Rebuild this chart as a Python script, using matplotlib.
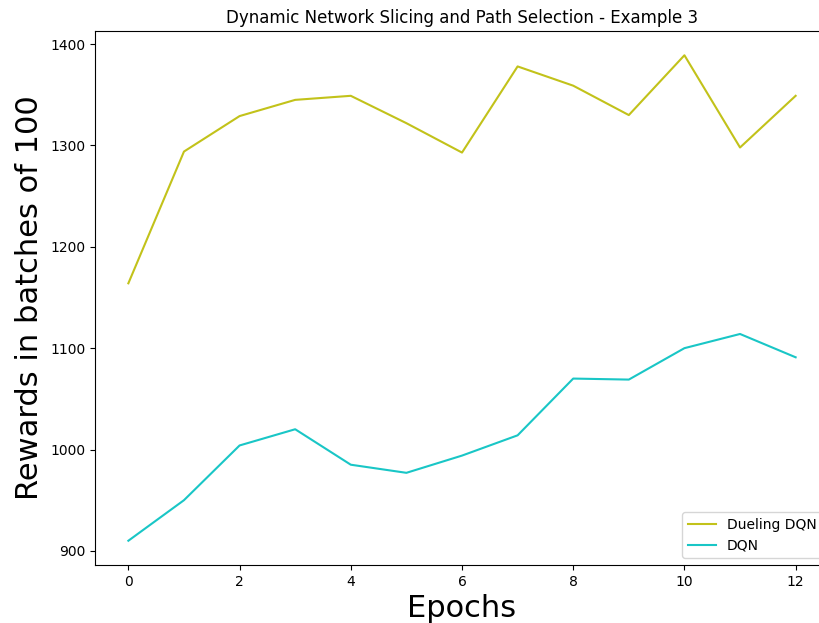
import matplotlib
matplotlib.use("Agg")
import matplotlib.pyplot as plt

epochs = list(range(13))
dueling_dqn = [1164, 1294, 1329, 1345, 1349, 1322, 1293, 1378, 1359, 1330, 1389, 1298, 1349]
dqn = [910, 950, 1004, 1020, 985, 977, 994, 1014, 1070, 1069, 1100, 1114, 1091]

fig = plt.figure(figsize=(8.19, 6.23), dpi=100)
ax = fig.add_axes([95 / 819, 1 - 565 / 623, (829 - 95) / 819, (565 - 31) / 623])

ax.plot(epochs, dueling_dqn, color="#c2c21a", label="Dueling DQN")
ax.plot(epochs, dqn, color="#19c6c6", label="DQN")

ax.set_title("Dynamic Network Slicing and Path Selection - Example 3")
ax.set_xlabel("Epochs", fontsize=22)
ax.set_ylabel("Rewards in batches of 100", fontsize=22)
ax.legend(loc="lower right")

fig.savefig("out.png", dpi=100)
